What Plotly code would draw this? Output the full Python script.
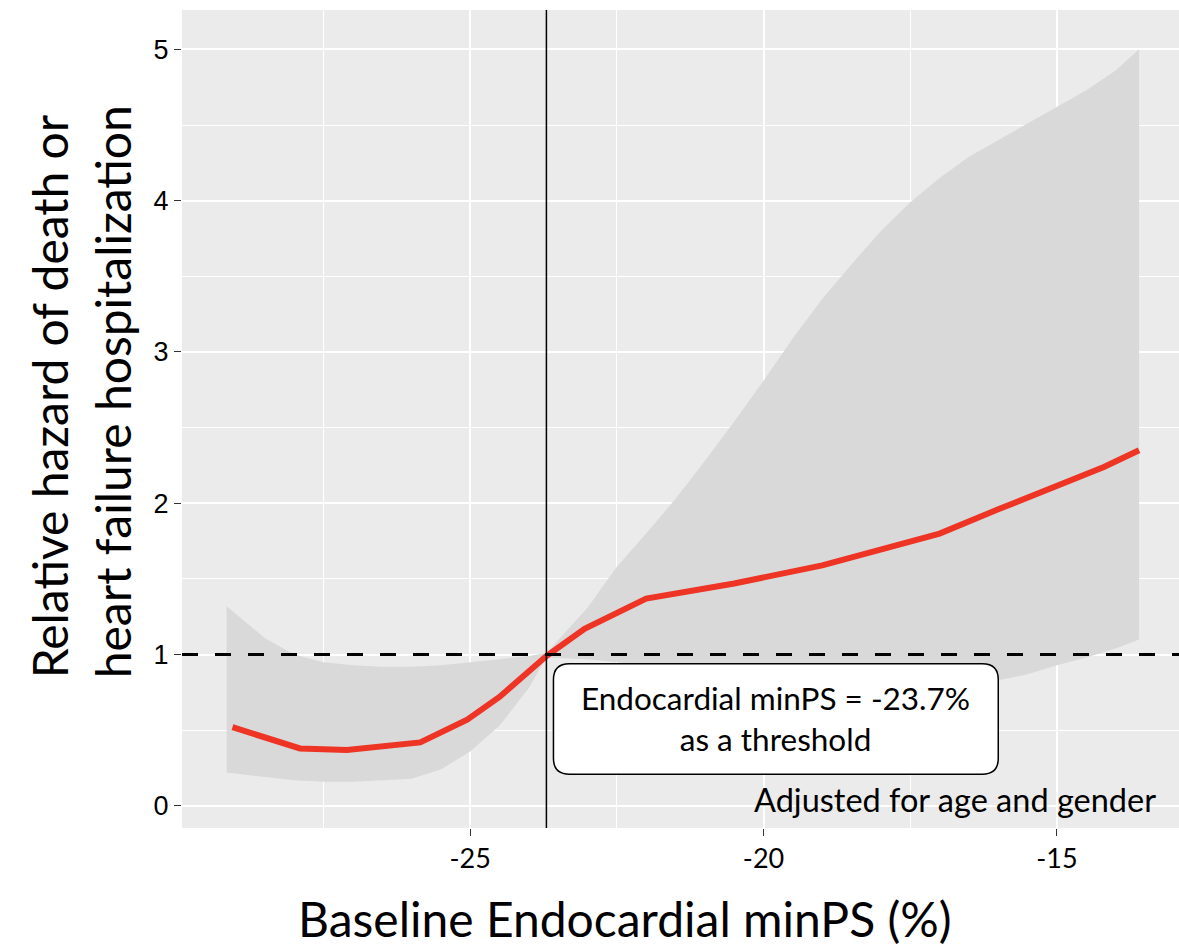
import plotly.graph_objects as go

# ---- data ----
line_x = [-29.05, -27.9, -27.1, -25.85, -25.05, -24.5, -23.7, -23.05, -22.0,
          -20.5, -19.0, -18.2, -17.0, -16.0, -15.0, -14.2, -13.6]
line_y = [0.52, 0.38, 0.37, 0.42, 0.57, 0.72, 0.99, 1.17, 1.37,
          1.47, 1.59, 1.67, 1.80, 1.96, 2.11, 2.24, 2.35]

band_x = [-29.15, -28.5, -28.0, -27.5, -27.0, -26.5, -26.0, -25.5, -25.0, -24.5,
          -24.0, -23.7, -23.0, -22.5, -22.0, -21.5, -21.0, -20.5, -20.0, -19.5,
          -19.0, -18.5, -18.0, -17.5, -17.0, -16.5, -16.0, -15.5, -15.0, -14.5,
          -14.0, -13.6]
band_upper = [1.32, 1.11, 1.00, 0.95, 0.93, 0.92, 0.92, 0.93, 0.95, 0.97,
              0.99, 1.01, 1.31, 1.58, 1.80, 2.03, 2.28, 2.54, 2.81, 3.09,
              3.35, 3.58, 3.80, 3.99, 4.15, 4.29, 4.40, 4.51, 4.62, 4.73,
              4.86, 5.00]
band_lower = [0.22, 0.19, 0.17, 0.16, 0.16, 0.17, 0.18, 0.24, 0.36, 0.53,
              0.78, 0.98, 0.97, 0.95, 0.93, 0.90, 0.88, 0.86, 0.85, 0.83,
              0.82, 0.81, 0.80, 0.80, 0.80, 0.81, 0.83, 0.87, 0.93, 0.98,
              1.04, 1.10]

threshold_x = -23.7
reference_y = 1.0
x_ticks = [-25, -20, -15]
y_ticks = [0, 1, 2, 3, 4, 5]

NARROW = "Lato, Carlito, sans-serif"
WIDE = "'Liberation Sans', Arial, sans-serif"

fig = go.Figure()
fig.add_trace(go.Scatter(x=band_x, y=band_lower, mode="lines", line=dict(width=0),
                         showlegend=False, hoverinfo="skip"))
fig.add_trace(go.Scatter(x=band_x, y=band_upper, mode="lines", line=dict(width=0),
                         fill="tonexty", fillcolor="#D9D9D9", showlegend=False,
                         hoverinfo="skip"))
fig.add_trace(go.Scatter(x=line_x, y=line_y, mode="lines",
                         line=dict(color="#EE3424", width=6), showlegend=False))

# reference lines
fig.add_shape(type="line", xref="paper", x0=0, x1=1, yref="y", y0=reference_y, y1=reference_y,
              line=dict(color="black", width=3, dash="16px,17px"))
fig.add_shape(type="line", xref="x", x0=threshold_x, x1=threshold_x, yref="paper", y0=0, y1=1,
              line=dict(color="black", width=1.5))

# rounded annotation box (data coords)
bx0, bx1, by0, by1 = -23.58, -16.0, 0.21, 0.94
rx, ry = 0.27, 0.105
path = (f"M {bx0+rx},{by1} L {bx1-rx},{by1} Q {bx1},{by1} {bx1},{by1-ry} "
        f"L {bx1},{by0+ry} Q {bx1},{by0} {bx1-rx},{by0} "
        f"L {bx0+rx},{by0} Q {bx0},{by0} {bx0},{by0+ry} "
        f"L {bx0},{by1-ry} Q {bx0},{by1} {bx0+rx},{by1} Z")
fig.add_shape(type="path", path=path, xref="x", yref="y",
              fillcolor="white", line=dict(color="black", width=1.5))

fig.add_annotation(x=(bx0 + bx1) / 2, y=(by0 + by1) / 2, xref="x", yref="y",
                   xanchor="center", yanchor="middle",
                   text="Endocardial minPS = -23.7%<br>as a threshold", showarrow=False,
                   font=dict(family=NARROW, size=31.5, color="black"), align="center")
fig.add_annotation(x=-13.28, y=0.04, xref="x", yref="y", xanchor="right", yanchor="middle",
                   text="Adjusted for age and gender", showarrow=False,
                   font=dict(family=NARROW, size=32.5, color="black"))

# axis titles
fig.add_annotation(x=-0.102, y=0.533, xref="paper", yref="paper", textangle=-90,
                   xanchor="center", yanchor="middle",
                   text="Relative hazard of death or<br>heart failure hospitalization",
                   showarrow=False, align="left",
                   font=dict(family=NARROW, size=48, color="black"))
fig.add_annotation(x=0.444, y=-0.111, xref="paper", yref="paper",
                   xanchor="center", yanchor="middle",
                   text="Baseline Endocardial minPS (%)", showarrow=False,
                   font=dict(family=NARROW, size=48, color="black"))

fig.update_layout(
    width=1179, height=949,
    margin=dict(l=182, r=0, t=10, b=121),
    paper_bgcolor="white", plot_bgcolor="#EBEBEB",
    showlegend=False,
    xaxis=dict(range=[-29.91, -12.92], tickvals=x_ticks, ticktext=[str(v) for v in x_ticks],
               showgrid=True, gridcolor="white", gridwidth=1.6, zeroline=False,
               ticks="outside", ticklen=7, tickcolor="#333333", tickwidth=1.2,
               tickfont=dict(family=NARROW, size=27, color="black"),
               minor=dict(tick0=-27.5, dtick=5, showgrid=True, gridcolor="white", gridwidth=1),
               showline=False),
    yaxis=dict(range=[-0.146, 5.26], tickvals=y_ticks, ticktext=[str(v) for v in y_ticks],
               showgrid=True, gridcolor="white", gridwidth=1.6, zeroline=False,
               ticks="outside", ticklen=7, tickcolor="#333333", tickwidth=1.2,
               tickfont=dict(family=WIDE, size=27, color="black"),
               minor=dict(tick0=0.5, dtick=1, showgrid=True, gridcolor="white", gridwidth=1),
               showline=False),
)

fig.write_html("out.html")
